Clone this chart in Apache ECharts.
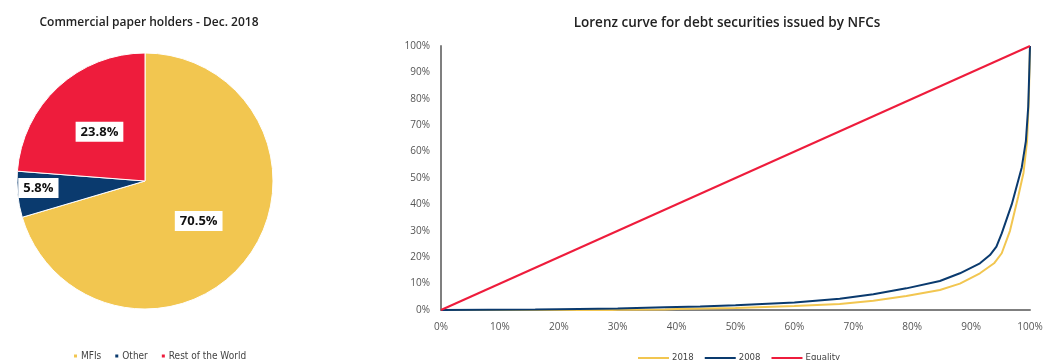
<!DOCTYPE html>
<html>
<head>
<meta charset="utf-8">
<script src="https://cdn.jsdelivr.net/npm/echarts@6/dist/echarts.min.js"></script>
<style>
  html, body { margin: 0; padding: 0; background: #fff; }
  #chart { width: 1047px; height: 360px; }
</style>
</head>
<body>
<div id="chart"></div>
<script>
// pie: commercial paper holders
const holderNames = ["MFIs", "Other", "Rest of the World"];
const holderShares = [70.5, 5.8, 23.8];

// lorenz curves (x = cumulative share of issuers, y = cumulative share of debt)
const x2018 = [0, 29, 30, 38, 40, 50, 60, 67.7, 73.4, 79, 84.7, 88.1, 91.5, 93.9, 95.2, 96.6, 98, 98.9, 99.5, 99.8, 100];
const y2018 = [0, 0, 0.1, 0.2, 0.4, 0.8, 1.5, 2.3, 3.5, 5.3, 7.6, 10, 13.9, 17.7, 21.5, 30, 43, 52, 64, 80, 100];
const x2008 = [0, 16, 20, 30, 38, 44, 50, 60, 67.7, 73.4, 79, 84.7, 88.1, 91.5, 93.2, 94.3, 95.2, 96.9, 98.6, 99.3, 99.7, 99.9, 100];
const y2008 = [0, 0.2, 0.3, 0.6, 1, 1.3, 1.8, 2.8, 4.3, 6, 8.2, 11, 13.9, 17.7, 20.8, 24, 29, 40, 54, 64, 77, 92, 100];
const xEquality = [0, 100];
const yEquality = [0, 100];

const colYellow = "#F2C650";
const colNavy = "#0A3A6E";
const colRed = "#EE1C3C";
const font = "'Open Sans', sans-serif";
const narrow = "'Liberation Sans Narrow', 'DejaVu Sans Condensed', sans-serif";

const zip = (xs, ys) => xs.map((x, i) => [x, ys[i]]);

const chart = echarts.init(document.getElementById("chart"), null, { renderer: "canvas" });

chart.setOption({
  animation: false,
  backgroundColor: "#fff",
  textStyle: { fontFamily: font },
  title: [
    {
      text: "Commercial paper holders - Dec. 2018",
      left: 144, top: 12, textAlign: "center",
      textStyle: { fontSize: 12, fontWeight: 600, color: "#222", fontFamily: font },
    },
    {
      text: "Lorenz curve for debt securities issued by NFCs",
      left: 722, top: 11, textAlign: "center",
      textStyle: { fontSize: 13.5, fontWeight: 600, color: "#222", fontFamily: font },
    },
  ],
  legend: [
    {
      data: holderNames,
      left: 67, top: 346,
      icon: "rect", itemWidth: 5, itemHeight: 5, itemGap: 12,
      textStyle: { fontSize: 10, color: "#444", fontFamily: narrow, padding: [0, 0, 0, -2] },
    },
    {
      data: ["2018", "2008", "Equality"],
      left: 632, top: 348,
      itemWidth: 31, itemHeight: 12, itemGap: 10,
      itemStyle: { opacity: 0 },
      lineStyle: { width: 2 },
      textStyle: { fontSize: 9.5, color: "#444", fontFamily: narrow, padding: [0, 0, 0, -2] },
    },
  ],
  grid: { left: 441, right: 17, top: 46, bottom: 50 },
  xAxis: {
    type: "value", min: 0, max: 100, interval: 10,
    axisLine: { show: true, lineStyle: { color: "#7f7f7f", width: 2 } },
    axisTick: { show: false },
    splitLine: { show: false },
    axisLabel: { formatter: "{value}%", color: "#555", fontSize: 10, margin: 12 },
  },
  yAxis: {
    type: "value", min: 0, max: 100, interval: 10,
    axisLine: { show: true, lineStyle: { color: "#7f7f7f", width: 2 } },
    axisTick: { show: false },
    splitLine: { show: false },
    axisLabel: { formatter: "{value}%", color: "#555", fontSize: 10, margin: 11 },
  },
  series: [
    {
      type: "pie",
      center: [145, 181],
      radius: 128,
      startAngle: 90,
      clockwise: true,
      itemStyle: { borderColor: "#fff", borderWidth: 1 },
      labelLine: { show: false },
      label: {
        show: true, position: "inside",
        formatter: (p) => p.value.toFixed(1) + "%",
        backgroundColor: "#fff", padding: [4, 5, 3, 5],
        color: "#111", fontSize: 13, fontWeight: "bold", fontFamily: font,
      },
      emphasis: { disabled: true },
      data: holderNames.map((n, i) => ({
        name: n,
        value: holderShares[i],
        itemStyle: { color: [colYellow, colNavy, colRed][i] },
        label: i === 1 ? { offset: [-40, 0] } : undefined,
      })),
    },
    {
      name: "2018", type: "line", data: zip(x2018, y2018),
      symbol: "none", lineStyle: { color: colYellow, width: 2 }, itemStyle: { color: colYellow },
    },
    {
      name: "2008", type: "line", data: zip(x2008, y2008),
      symbol: "none", lineStyle: { color: colNavy, width: 2 }, itemStyle: { color: colNavy },
    },
    {
      name: "Equality", type: "line", data: zip(xEquality, yEquality),
      symbol: "none", lineStyle: { color: colRed, width: 2 }, itemStyle: { color: colRed },
    },
  ],
});
</script>
</body>
</html>
